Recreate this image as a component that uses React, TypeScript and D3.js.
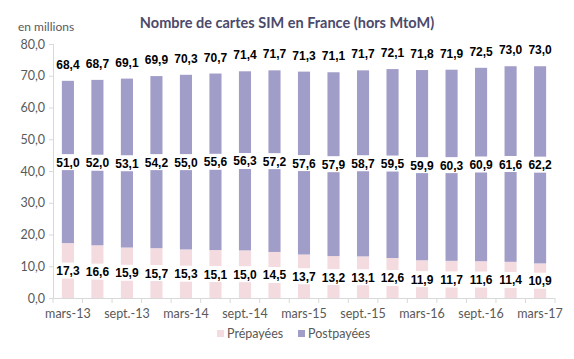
import React from "react";
import * as d3 from "d3";

const categories = ["mars-13","juin-13","sept.-13","déc.-13","mars-14","juin-14","sept.-14","déc.-14","mars-15","juin-15","sept.-15","déc.-15","mars-16","juin-16","sept.-16","déc.-16","mars-17"];
const prepayees = [17.3,16.6,15.9,15.7,15.3,15.1,15.0,14.5,13.7,13.2,13.1,12.6,11.9,11.7,11.6,11.4,10.9];
const postpayees = [51.0,52.0,53.1,54.2,55.0,55.6,56.3,57.2,57.6,57.9,58.7,59.5,59.9,60.3,60.9,61.6,62.2];
const totals = [68.4,68.7,69.1,69.9,70.3,70.7,71.4,71.7,71.3,71.1,71.7,72.1,71.8,71.9,72.5,73.0,73.0];
const yTicks = [0,10,20,30,40,50,60,70,80];

const W = 574, H = 359;
const fmt = (v: number) => v.toFixed(1).replace(".", ",");

export default function App() {
  const x = d3.scaleBand<string>().domain(categories).range([53, 555]).paddingInner(0.59).paddingOuter(0.3);
  const y = d3.scaleLinear().domain([0, 80]).range([298, 44]);
  const bw = x.bandwidth();
  const step = x.step();
  const purple = "#a19dc9";
  const pink = "#f3dbe0";
  const labelFont = "'Liberation Sans', Arial, sans-serif";
  const uiFont = "Lato, 'Open Sans', sans-serif";
  const boundaries = d3.range(categories.length + 1).map(i => 53 + i * (502 / categories.length));
  return (
    <svg width={W} height={H} style={{ position: "absolute", left: 0, top: 0, background: "#fff" }}>
      <text x={287} y={28} textAnchor="middle" fontFamily={uiFont} fontWeight="bold" fontSize={14.5} fill="#4b4a6b">Nombre de cartes SIM en France (hors MtoM)</text>
      <text x={18} y={31} fontFamily={uiFont} fontSize={12} fill="#595959">en millions</text>
      {/* y axis */}
      <line x1={53.5} x2={53.5} y1={y(80)} y2={y(0)} stroke="#d9d9d9" />
      {yTicks.map(t => (
        <g key={t}>
          <line x1={49} x2={53.5} y1={y(t) + 0.5} y2={y(t) + 0.5} stroke="#d9d9d9" />
          <text x={45} y={y(t) + 4.5} textAnchor="end" fontFamily={uiFont} fontSize={12.5} fill="#595959">{fmt(t)}</text>
        </g>
      ))}
      {/* x axis */}
      <line x1={53} x2={555} y1={y(0) + 0.5} y2={y(0) + 0.5} stroke="#d9d9d9" />
      {boundaries.map((b, i) => (
        <line key={i} x1={b} x2={b} y1={y(0)} y2={y(0) + 5} stroke="#d9d9d9" />
      ))}
      {categories.map((c, i) => i % 2 === 0 ? (
        <text key={c} x={(x(c) ?? 0) + bw / 2} y={318} textAnchor="middle" fontFamily={uiFont} fontSize={12.5} fill="#595959">{c}</text>
      ) : null)}
      {/* bars */}
      {categories.map((c, i) => {
        const x0 = x(c) ?? 0;
        const cx = x0 + bw / 2;
        const pre = prepayees[i], post = postpayees[i], tot = totals[i];
        const preY = y((pre) / 2);
        const postY = y(pre + post / 2);
        const bx = 13.5;
        return (
          <g key={c}>
            <rect x={x0} y={y(pre)} width={bw} height={y(0) - y(pre)} fill={pink} />
            <rect x={x0} y={y(tot)} width={bw} height={y(pre) - y(tot)} fill={purple} />
            <rect x={cx - bx} y={preY - 8} width={bx * 2} height={16} fill="#fff" />
            <text x={cx} y={preY + 4.5} textAnchor="middle" fontFamily={labelFont} fontWeight="bold" fontSize={12} fill="#000">{fmt(pre)}</text>
            <rect x={cx - bx} y={postY - 8} width={bx * 2} height={16} fill="#fff" />
            <text x={cx} y={postY + 4.5} textAnchor="middle" fontFamily={labelFont} fontWeight="bold" fontSize={12} fill="#000">{fmt(post)}</text>
            <text x={cx} y={y(tot) - 12} textAnchor="middle" fontFamily={labelFont} fontWeight="bold" fontSize={12} fill="#000">{fmt(tot)}</text>
          </g>
        );
      })}
      {/* legend */}
      <rect x={217} y={330} width={7} height={7} fill={pink} />
      <text x={227} y={338} fontFamily={uiFont} fontSize={12.5} fill="#595959">Prépayées</text>
      <rect x={298} y={330} width={7} height={7} fill={purple} />
      <text x={308} y={338} fontFamily={uiFont} fontSize={12.5} fill="#595959">Postpayées</text>
      {void step}
    </svg>
  );
}
